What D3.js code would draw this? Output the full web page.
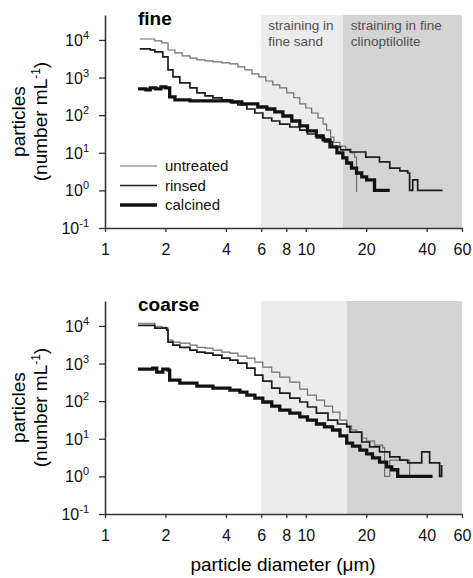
<!DOCTYPE html>
<html>
<head>
<meta charset="utf-8">
<script src="https://cdnjs.cloudflare.com/ajax/libs/d3/7.8.5/d3.min.js"></script>
<style>
body { margin: 0; background: #fff; }
svg text { font-family: "Liberation Sans", Arial, Helvetica, sans-serif; }
</style>
</head>
<body>
<div id="chart"></div>
<script>
// Axis ticks
var xTicks = [1, 2, 4, 6, 8, 10, 20, 40, 60];
var yTickExps = [-1, 0, 1, 2, 3, 4];
var seriesNames = ["untreated", "rinsed", "calcined"];

// Fine clinoptilolite: diameter (um) / particles per mL (step histogram)
var fineUntreatedD = [1.49,1.77,1.92,2.06,2.23,2.42,2.65,2.87,3.15,3.45,3.82,4.19,4.59,4.97,5.39,5.84,6.32,6.85,7.42,8.04,8.72,9.34,10.0,10.7,11.5,12.2,12.7,13.3,13.8,14.8,15.8,16.8,17.5,17.9];
var fineUntreatedN = [10600,9400,8300,5400,4500,3750,3300,2940,2760,2600,2450,2300,1910,1590,1250,1040,810,640,530,390,290,200,155,114,84,58,40,26,19,15,12.6,9.9,7.7,0.9];
var fineRinsedD = [1.49,1.68,1.77,1.94,2.06,2.18,2.36,2.65,2.87,3.15,3.45,3.82,4.19,4.59,5.09,5.58,6.11,6.77,7.42,8.33,9.34,10.2,11.3,12.4,13.6,14.9,16.6,19.9,23.3,26.2,29.4,32.2,32.9,34.1,36.1,48.0];
var fineRinsedN = [5770,5420,4800,3530,1590,1040,720,530,390,324,287,254,224,187,146,114,84,70,58,48.5,40,31.6,24.8,19.4,14.3,11.9,10.5,7.7,5.7,3.9,3.3,2.9,1.0,1.9,1.0,1.0];
var fineCalcinedD = [1.46,1.60,1.68,1.79,1.90,2.01,2.10,2.23,2.65,3.15,3.82,4.28,4.80,5.27,5.77,6.40,7.01,7.69,8.52,9.34,10.2,11.3,12.2,13.2,14.3,15.3,16.0,16.9,17.9,19.0,20.1,22.0,26.2];
var fineCalcinedN = [500,470,530,500,560,530,305,254,239,239,239,224,199,199,165,146,122,95,70,52,38,28,22,14.3,9.9,7.3,5.35,3.9,2.9,2.3,1.9,1.0,1.0];

// Coarse clinoptilolite
var coarseUntreatedD = [1.46,1.68,1.77,1.92,2.03,2.06,2.18,2.36,2.65,2.87,3.15,3.45,3.82,4.19,4.59,5.09,5.58,6.11,6.77,7.42,8.33,9.34,10.2,11.3,12.4,13.6,14.8,16.0,16.9,17.9,19.0,20.1,22.0,24.2,24.7,26.2,32.2,32.9];
var coarseUntreatedN = [11800,11800,9800,9200,8700,4200,3700,3500,3100,2700,2560,2270,2000,1890,1570,1390,1090,800,590,436,321,209,145,107,74,51,31.5,21.9,17.1,15.1,10.5,8.7,6.8,5.7,1.0,2.7,2.7,1.0];
var coarseRinsedD = [1.46,1.68,1.77,2.03,2.06,2.18,2.36,2.65,2.87,3.15,3.45,3.82,4.19,4.59,5.09,5.58,6.11,6.77,7.42,8.33,9.34,10.2,11.3,12.9,14.4,16.0,16.6,18.6,19.0,20.8,23.3,26.2,29.4,32.2,36.1,37.8,40.0,41.4,44.9,46.4,47.5];
var coarseRinsedN = [10400,10400,8700,7700,3700,3100,2700,2270,2000,1890,1670,1390,1230,1025,755,490,341,223,164,121,95,70,48,31.5,24.7,20.6,15.1,15.1,8.2,6.1,4.5,3.3,2.7,2.3,2.3,4.5,4.5,2.3,2.3,1.0,2.0];
var coarseCalcinedD = [1.46,1.68,1.73,1.81,1.94,2.06,2.10,2.36,2.87,3.45,4.19,4.70,5.09,5.58,6.11,6.77,7.42,8.33,9.34,10.2,11.3,12.4,13.6,14.8,16.0,17.1,18.6,20.1,21.5,23.3,25.3,26.8,28.7,42.8];
var coarseCalcinedN = [710,710,755,590,710,670,363,302,252,223,197,174,145,121,95,74,58,48,38,31.5,24.7,20.6,17.1,11.9,7.7,6.4,5.0,3.95,3.1,2.4,1.8,1.5,1.0,1.0];

// Straining zones (um)
var fineSandZone = [6, 15.3];
var fineClinoZone = [15.3, 60];
var coarseSandZone = [6, 16];
var coarseClinoZone = [16, 60];

var width = 473, height = 578;
var left = 105, right = 462, panelH = 213;

var lineStyles = [
    {color: "#6e6e6e", w: 1.2},
    {color: "#1c1c1c", w: 1.7},
    {color: "#111", w: 3.3}
];

var svg = d3.select("#chart").append("svg")
    .attr("width", width)
    .attr("height", height);

var x = d3.scaleLog().domain([1, 60]).range([left, right]);

function zip(ds, ns) {
    return ds.map(function(d, i) { return [d, ns[i]]; });
}

function drawPanel(top, title, series, sandZone, clinoZone, annotate) {
    var bottom = top + panelH;
    var y = d3.scaleLog().domain([0.1, 46000]).range([bottom, top]);
    var g = svg.append("g");

    // shaded straining zones
    g.append("rect")
        .attr("x", x(sandZone[0])).attr("y", top)
        .attr("width", x(sandZone[1]) - x(sandZone[0]))
        .attr("height", bottom - top)
        .style("fill", "#ececec");
    g.append("rect")
        .attr("x", x(clinoZone[0])).attr("y", top)
        .attr("width", x(clinoZone[1]) - x(clinoZone[0]))
        .attr("height", bottom - top)
        .style("fill", "#d4d4d4");

    if (annotate) {
        var t1 = g.append("text").attr("x", x(sandZone[0]) + 7).attr("y", top + 15)
            .style("font-size", "13.5px").style("fill", "#505050");
        t1.append("tspan").text("straining in");
        t1.append("tspan").attr("x", x(sandZone[0]) + 7).attr("dy", 16).text("fine sand");
        var t2 = g.append("text").attr("x", x(clinoZone[0]) + 8).attr("y", top + 15)
            .style("font-size", "13.5px").style("fill", "#505050");
        t2.append("tspan").text("straining in fine");
        t2.append("tspan").attr("x", x(clinoZone[0]) + 8).attr("dy", 16).text("clinoptilolite");
    }

    // step lines
    var line = d3.line()
        .x(function(d) { return x(d[0]); })
        .y(function(d) { return y(d[1]); })
        .curve(d3.curveStepAfter);

    series.forEach(function(s, i) {
        g.append("path")
            .datum(s)
            .attr("d", line)
            .style("fill", "none")
            .style("stroke", lineStyles[i].color)
            .style("stroke-width", lineStyles[i].w)
            .style("stroke-linejoin", "miter");
    });

    // x axis
    var xAxis = d3.axisBottom(x)
        .tickValues(xTicks)
        .tickFormat(d3.format("d"))
        .tickSize(4).tickSizeOuter(0).tickPadding(12);
    var gx = g.append("g")
        .attr("transform", "translate(0," + bottom + ")")
        .call(xAxis);
    gx.selectAll("text").style("font-size", "16px").style("fill", "#111");

    // y axis
    var yAxis = d3.axisLeft(y)
        .tickValues(yTickExps.map(function(e) { return Math.pow(10, e); }))
        .tickFormat("")
        .tickSize(6).tickSizeOuter(0);
    var gy = g.append("g")
        .attr("transform", "translate(" + left + ",0)")
        .call(yAxis);

    [gx, gy].forEach(function(a) {
        a.select(".domain").style("stroke", "#333").style("stroke-width", 1.6);
        a.selectAll(".tick line").style("stroke", "#333").style("stroke-width", 1.3);
    });

    yTickExps.forEach(function(e) {
        var t = g.append("text")
            .attr("x", left - 16)
            .attr("y", y(Math.pow(10, e)) + 6)
            .attr("text-anchor", "end")
            .style("font-size", "16px").style("fill", "#111");
        t.append("tspan").text("10");
        t.append("tspan").attr("dy", -7).style("font-size", "11px").text(e);
    });

    // panel title
    g.append("text")
        .attr("x", 138).attr("y", top + 10)
        .style("font-size", "19px").style("font-weight", "bold")
        .text(title);

    // y label
    var cy = (top + bottom) / 2;
    g.append("text")
        .attr("transform", "translate(25," + cy + ") rotate(-90)")
        .attr("text-anchor", "middle")
        .style("font-size", "19px")
        .text("particles");
    var yl = g.append("text")
        .attr("transform", "translate(47," + cy + ") rotate(-90)")
        .attr("text-anchor", "middle")
        .style("font-size", "19px");
    yl.append("tspan").text("(number mL");
    yl.append("tspan").attr("dy", -7).style("font-size", "12px").text("-1");
    yl.append("tspan").attr("dy", 7).text(")");

    return y;
}

drawPanel(15, "fine",
    [zip(fineUntreatedD, fineUntreatedN), zip(fineRinsedD, fineRinsedN), zip(fineCalcinedD, fineCalcinedN)],
    fineSandZone, fineClinoZone, true);

drawPanel(301, "coarse",
    [zip(coarseUntreatedD, coarseUntreatedN), zip(coarseRinsedD, coarseRinsedN), zip(coarseCalcinedD, coarseCalcinedN)],
    coarseSandZone, coarseClinoZone, false);

// legend (fine panel)
var legend = svg.append("g");
seriesNames.forEach(function(name, i) {
    var ly = 166 + i * 19.5;
    legend.append("line")
        .attr("x1", 120).attr("x2", 157)
        .attr("y1", ly).attr("y2", ly)
        .style("stroke", lineStyles[i].color)
        .style("stroke-width", lineStyles[i].w);
    legend.append("text")
        .attr("x", 165).attr("y", ly + 5)
        .style("font-size", "15px").style("fill", "#111")
        .text(name);
});

// x axis title
svg.append("text")
    .attr("x", 283).attr("y", 571)
    .attr("text-anchor", "middle")
    .style("font-size", "19px")
    .text("particle diameter (\u03bcm)");
</script>
</body>
</html>
